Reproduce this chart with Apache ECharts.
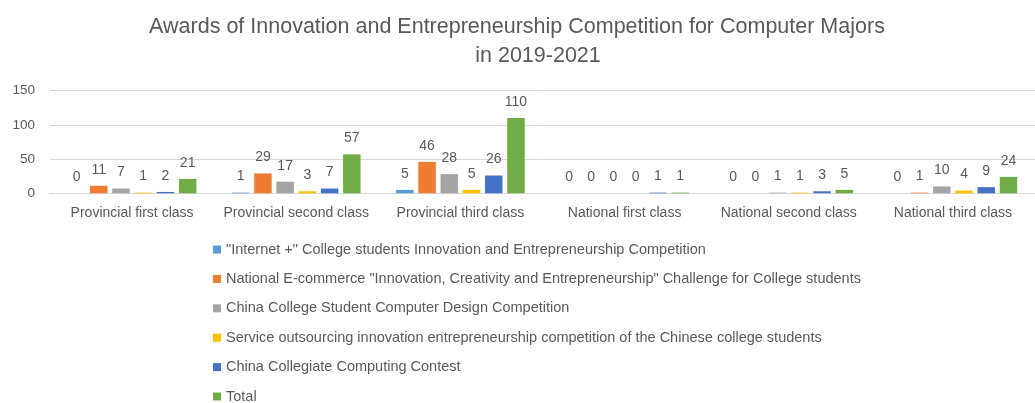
<!DOCTYPE html>
<html>
<head>
<meta charset="utf-8">
<style>
  html, body { margin: 0; padding: 0; background: #ffffff; }
  #chart { width: 1035px; height: 403px; }
</style>
<script src="https://cdn.jsdelivr.net/npm/echarts@6/dist/echarts.min.js"></script>
</head>
<body>
<div id="chart"></div>
<script>
// Award levels along the x axis
const categories = [
  'Provincial first class', 'Provincial second class', 'Provincial third class',
  'National first class', 'National second class', 'National third class'
];

// Competition names (legend order)
const seriesNames = [
  '"Internet +" College students Innovation and Entrepreneurship Competition',
  'National E-commerce "Innovation, Creativity and Entrepreneurship" Challenge for College students',
  'China College Student Computer Design Competition',
  'Service outsourcing innovation entrepreneurship competition of the Chinese college students',
  'China Collegiate Computing Contest',
  'Total'
];

// Award counts per competition, one value per award level
const internetPlus      = [0, 1, 5, 0, 0, 0];
const eCommerce         = [11, 29, 46, 0, 0, 1];
const computerDesign    = [7, 17, 28, 0, 1, 10];
const serviceOutsource  = [1, 3, 5, 0, 1, 4];
const computingContest  = [2, 7, 26, 1, 3, 9];
const total             = [21, 57, 110, 1, 5, 24];

const seriesValues = [internetPlus, eCommerce, computerDesign, serviceOutsource, computingContest, total];
const colors = ['#5B9BD5', '#ED7D31', '#A5A5A5', '#FFC000', '#4472C4', '#70AD47'];

const yTicks = { min: 0, max: 150, interval: 50 };

const FONT = '"Liberation Sans", Arial, sans-serif';
const TEXT = '#595959';

const chart = echarts.init(document.getElementById('chart'), null, { renderer: 'canvas' });

chart.setOption({
  animation: false,
  backgroundColor: '#ffffff',
  color: colors,
  title: [
    {
      text: 'Awards of Innovation and Entrepreneurship Competition for Computer Majors',
      left: 512, top: 11, textAlign: 'center',
      textStyle: { fontFamily: FONT, fontSize: 21.5, fontWeight: 'normal', color: TEXT }
    },
    {
      text: 'in 2019-2021',
      left: 533, top: 40, textAlign: 'center',
      textStyle: { fontFamily: FONT, fontSize: 21.5, fontWeight: 'normal', color: TEXT }
    }
  ],
  legend: {
    orient: 'vertical',
    left: 213, top: 241.5,
    height: 200,
    padding: 0,
    itemWidth: 8, itemHeight: 8,
    itemGap: 13.4,
    icon: 'rect',
    data: seriesNames,
    textStyle: { fontFamily: FONT, fontSize: 14.5, color: TEXT, lineHeight: 16 }
  },
  grid: { left: 50, top: 90.7, width: 1000, height: 102.6, containLabel: false },
  xAxis: {
    type: 'category',
    data: categories,
    axisTick: { show: false },
    axisLine: { lineStyle: { color: '#D9D9D9', width: 1 } },
    axisLabel: { interval: 0, fontFamily: FONT, fontSize: 14, color: TEXT, margin: 13 }
  },
  yAxis: {
    type: 'value',
    min: yTicks.min, max: yTicks.max, interval: yTicks.interval,
    axisLine: { show: false },
    axisTick: { show: false },
    splitLine: { lineStyle: { color: '#D9D9D9', width: 1 } },
    axisLabel: { fontFamily: FONT, fontSize: 13.5, color: TEXT, margin: 15 }
  },
  series: seriesNames.map((name, i) => ({
    name,
    type: 'bar',
    data: seriesValues[i],
    barWidth: 17.5,
    barGap: '27%',
    itemStyle: { color: colors[i] },
    label: {
      show: true,
      position: 'top',
      distance: 9,
      fontFamily: FONT,
      fontSize: 14,
      color: TEXT
    }
  }))
});
</script>
</body>
</html>
